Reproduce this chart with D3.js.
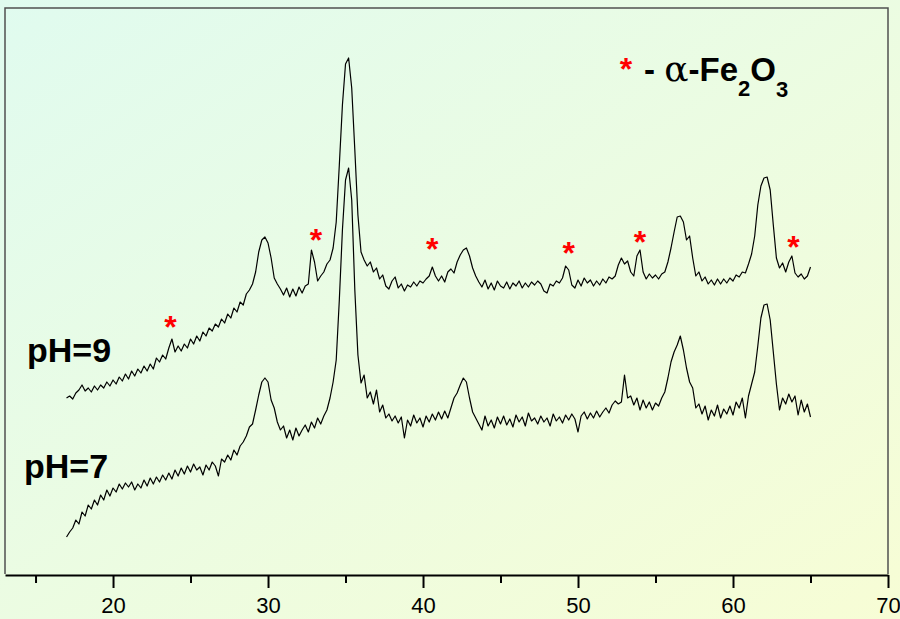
<!DOCTYPE html>
<html>
<head>
<meta charset="utf-8">
<script src="https://cdn.jsdelivr.net/npm/d3@7"></script>
<style>
  body { margin: 0; overflow: hidden; }
  svg { display: block; }
</style>
</head>
<body>
<script>
// XRD patterns, 2theta from 17 to 65 deg, step 0.2 (intensity in a.u., offset stacked)
const twoThetaStart = 17;
const twoThetaStep = 0.2;

const pH9 = [
  176,178,175,181,184,189,183,186,182,188,
  184,189,186,192,188,194,190,197,193,200,
  195,203,198,205,201,208,203,210,205,216,
  212,219,215,226,235,222,228,223,230,226,
  235,230,238,233,242,238,246,243,250,247,
  255,251,260,256,266,262,272,269,280,284,
  290,302,322,334,337,331,316,296,290,285,
  279,286,277,285,278,287,281,288,290,324,
  312,293,298,302,310,314,326,352,409,469,
  510,516,486,424,359,322,314,308,312,302,
  306,295,299,288,285,293,297,286,290,283,
  289,287,292,288,293,291,295,298,307,298,
  293,298,292,302,305,301,312,319,324,326,
  318,306,298,292,287,294,285,291,284,293,
  288,286,292,285,291,288,293,286,291,287,
  292,289,293,290,283,281,290,288,293,291,
  296,308,304,289,286,294,288,296,291,294,
  288,293,289,295,291,297,295,298,309,316,
  310,313,302,298,318,324,302,295,300,296,
  299,295,300,302,312,326,342,357,358,352,
  334,338,316,298,302,293,297,290,294,289,
  295,290,295,291,296,293,299,297,302,301,
  310,320,338,369,388,396,397,384,349,316,
  306,311,302,312,318,301,297,300,295,298,
  307
];

const pH7 = [
  37,42,46,54,50,62,58,69,65,74,
  69,79,74,84,78,86,82,90,85,91,
  87,92,84,90,86,94,88,96,90,97,
  92,99,94,101,95,104,98,106,100,108,
  102,110,104,107,99,109,104,112,108,98,
  115,112,119,114,124,119,128,132,138,147,
  150,164,179,192,196,192,174,166,152,144,
  148,136,144,134,146,138,144,149,142,152,
  146,156,150,158,164,176,192,214,274,344,
  394,406,374,284,219,191,199,176,182,170,
  184,162,169,156,160,153,158,151,157,136,
  154,148,159,151,156,147,158,152,160,154,
  162,155,163,156,166,176,181,189,196,192,
  176,162,156,150,144,158,148,154,146,157,
  150,158,149,155,147,159,152,157,148,161,
  153,156,150,158,152,156,148,160,153,157,
  151,159,154,160,155,142,158,162,155,161,
  156,163,157,162,166,161,169,173,170,172,
  199,176,178,169,176,164,174,166,172,164,
  171,168,176,182,196,212,222,229,238,224,
  206,192,186,166,170,160,168,154,164,158,
  169,156,165,160,168,159,172,166,176,156,
  178,190,202,228,256,269,270,254,222,190,
  164,176,170,180,172,178,159,174,162,170,
  157
];

// alpha-Fe2O3 reflections marked on the pH=9 pattern
const hematiteAngles = [23.7, 33.1, 40.6, 49.4, 54.0, 63.9];
const hematiteMarkLevel = [254, 341, 332, 328, 339, 334];

const majorTicks = [20, 30, 40, 50, 60, 70];
const minorTicks = [15, 25, 35, 45, 55, 65];

const seriesLabels = ["pH=9", "pH=7"];

const W = 900, H = 619;
const mLeft = 5, mRight = 888, mTop = 8, mBottom = 574;

const svg = d3.select("body").append("svg").attr("width", W).attr("height", H);

// slide background
const grad = svg.append("defs").append("linearGradient")
  .attr("id", "bg").attr("x1", "0").attr("y1", "0").attr("x2", "1").attr("y2", "1");
grad.append("stop").attr("offset", "0").attr("stop-color", "#e0fbef");
grad.append("stop").attr("offset", "1").attr("stop-color", "#f7fdd5");
svg.append("rect").attr("width", W).attr("height", H).attr("fill", "url(#bg)");

const x = d3.scaleLinear().domain([13.03, 70]).range([mLeft, mRight]);
const y = d3.scaleLinear().domain([0, mBottom - mTop]).range([mBottom, mTop]);

// frame
svg.append("path")
  .attr("d", `M${mLeft},${mBottom}V${mTop}H${mRight}V${mBottom}`)
  .attr("fill", "none").attr("stroke", "#505050").attr("stroke-width", 1.5);

// x axis
const axisG = svg.append("g").attr("transform", `translate(0,${mBottom + 1})`);
axisG.call(d3.axisBottom(x).tickValues(majorTicks).tickSize(13).tickSizeOuter(0).tickFormat(d3.format("d")));
axisG.select(".domain").attr("stroke", "#000").attr("stroke-width", 2);
axisG.selectAll(".tick line").attr("stroke", "#000").attr("stroke-width", 2);
axisG.selectAll(".tick text")
  .attr("y", 38).attr("dy", 0)
  .style("font-family", "Arial, 'Liberation Sans', sans-serif")
  .style("font-size", "22px").attr("fill", "#000");

const minorG = svg.append("g").attr("transform", `translate(0,${mBottom + 1})`);
minorG.call(d3.axisBottom(x).tickValues(minorTicks).tickSize(8).tickFormat(""));
minorG.select(".domain").remove();
minorG.selectAll(".tick line").attr("stroke", "#000").attr("stroke-width", 2);

// patterns
const line = d3.line()
  .x((d, i) => x(twoThetaStart + i * twoThetaStep))
  .y(d => y(d));

[pH9, pH7].forEach(s => {
  svg.append("path").datum(s)
    .attr("d", line)
    .attr("fill", "none").attr("stroke", "#000").attr("stroke-width", 1.2)
    .attr("stroke-linejoin", "round");
});

// hematite markers
svg.selectAll("text.mark").data(hematiteAngles).enter().append("text")
  .attr("class", "mark")
  .attr("x", d => x(d))
  .attr("y", (d, i) => y(hematiteMarkLevel[i]) + 18)
  .attr("text-anchor", "middle")
  .style("font-family", "Arial, 'Liberation Sans', sans-serif")
  .style("font-weight", "bold").style("font-size", "32px")
  .attr("fill", "#ff0000").text("*");

// series labels
const labelFont = "Arial, 'Liberation Sans', sans-serif";
svg.append("text").attr("x", 27).attr("y", 362)
  .style("font-family", labelFont).style("font-weight", "bold").style("font-size", "34px")
  .text(seriesLabels[0]);
svg.append("text").attr("x", 24).attr("y", 478)
  .style("font-family", labelFont).style("font-weight", "bold").style("font-size", "34px")
  .text(seriesLabels[1]);

// legend
svg.append("text").attr("x", 626).attr("y", 80)
  .attr("text-anchor", "middle")
  .style("font-family", labelFont).style("font-weight", "bold").style("font-size", "32px")
  .attr("fill", "#ff0000").text("*");
const leg = svg.append("text").attr("x", 644).attr("y", 81)
  .style("font-family", labelFont).style("font-weight", "bold").style("font-size", "33px");
leg.append("tspan").text("- ");
leg.append("tspan").style("font-weight", "normal").style("font-family", "'DejaVu Serif', serif")
  .style("font-size", "36px").text("α");
leg.append("tspan").text("-Fe");
leg.append("tspan").attr("dy", 15).style("font-size", "22px").text("2");
leg.append("tspan").attr("dy", -15).text("O");
leg.append("tspan").attr("dy", 16).style("font-size", "22px").text("3");
</script>
</body>
</html>
